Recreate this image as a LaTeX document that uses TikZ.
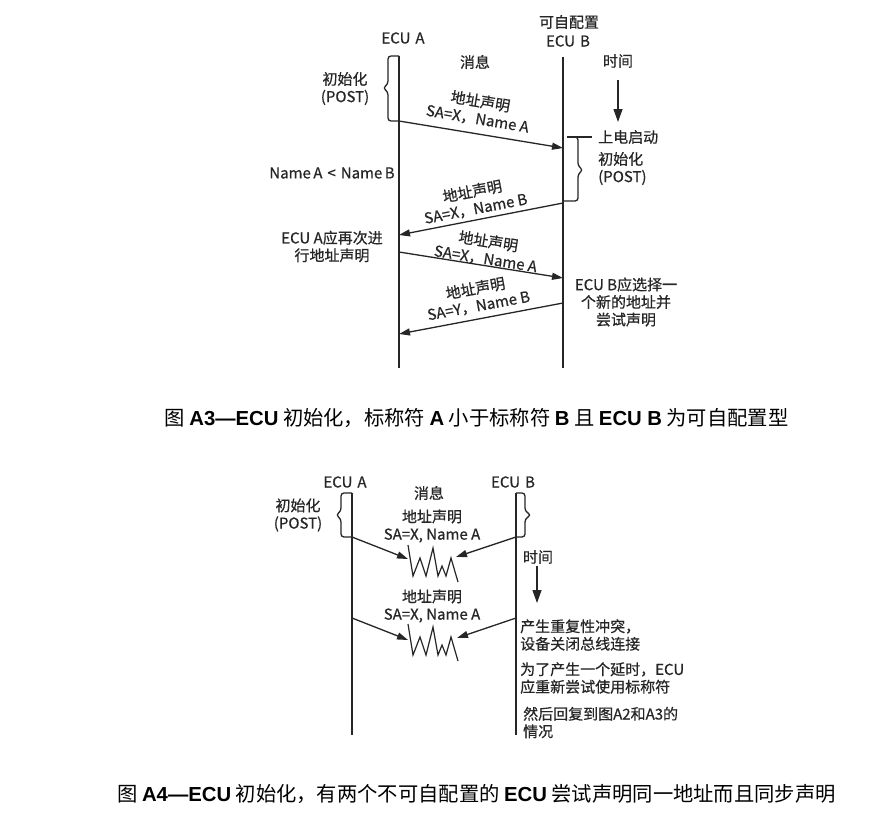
\documentclass[tikz,border=0pt]{standalone}
\usepackage{fontspec}
\setmainfont{Noto Sans CJK SC}
\newfontfamily\dgm{Noto Sans CJK SC}[FakeBold=0.6]
\newfontfamily\capb{Liberation Sans}
\newcommand\capbf[1]{{\capb\bfseries #1}}
\usetikzlibrary{arrows.meta}
\begin{document}
\begin{tikzpicture}[x=1pt,y=-1pt,
  ink/.style={draw=black!85, line width=1.3pt},
  msg/.style={ink, -{Triangle[length=11pt,width=7pt]}},
  timearrow/.style={ink, -{Triangle[length=13pt,width=9pt]}},
  brace/.style={ink, rounded corners=3pt},
  lbl/.style={font={\dgm\fontsize{15}{17.5}\selectfont}, text=black!85, inner sep=0pt, align=center},
  figcaption/.style={font=\fontsize{20.3}{24}\selectfont, text=black, inner sep=0pt},
]
\useasboundingbox[fill=white] (0,0) rectangle (894,828);

% ---------------- Figure A3 ----------------
\coordinate (A3top) at (399,56);  \coordinate (A3bot) at (399,368);
\coordinate (B3top) at (563,57);  \coordinate (B3bot) at (563,368);
\draw[ink] (A3top) -- (A3bot);
\draw[ink] (B3top) -- (B3bot);

\node[lbl] (ecuA3) at (403,38) {ECU\,\,A};
\node[lbl] (cfgB3) at (569,22) {可自配置};
\node[lbl] (ecuB3) at (568,41) {ECU\,\,B};
\node[lbl] (msg3)  at (475,62) {消息};
\node[lbl] (time3) at (618,61) {时间};
\coordinate (t3s) at (618,80); \coordinate (t3e) at (618,122);
\draw[timearrow] (t3s) -- (t3e);

% power-on self test of ECU A
\draw[brace] (399,56) -- (388,56) -- (388,84) -- (383,88) -- (388,92) -- (388,121) -- (399,121);
\node[lbl] (postA3) at (345,88.5) {初始化\\(POST)};

% power-on and self test of ECU B
\draw[ink] (567,137) -- (592,137);
\draw[brace] (572,137) -- (578,137) -- (578,166) -- (583,170) -- (578,174) -- (578,201) -- (564,201);
\node[lbl, anchor=west] (pwrB3) at (598,137) {上电启动};
\node[lbl, anchor=west, align=left] (postB3) at (598,168.5) {初始化\\(POST)};

\node[lbl] (cmp3) at (332,173) {Name\,A\,\,<\,\,Name\,B};

% address claims
\coordinate (m1s) at (399,121); \coordinate (m1e) at (563,148);
\coordinate (m2s) at (563,203); \coordinate (m2e) at (399,235);
\coordinate (m3s) at (399,252); \coordinate (m3e) at (563,278);
\coordinate (m4s) at (563,303); \coordinate (m4e) at (399,334);
\draw[msg] (m1s) -- (m1e);
\draw[msg] (m2s) -- (m2e);
\draw[msg] (m3s) -- (m3e);
\draw[msg] (m4s) -- (m4e);
\node[lbl, rotate=-9.5] (l1) at (479,110) {地址声明\\SA=X，Name A};
\node[lbl, rotate=11]   (l2) at (474,200) {地址声明\\SA=X，Name B};
\node[lbl, rotate=-9]   (l3) at (487,250) {地址声明\\SA=X，Name A};
\node[lbl, rotate=10.5] (l4) at (477,297) {地址声明\\SA=Y，Name B};

\node[lbl] (reA3) at (332,246.5) {ECU A应再次进\\行地址声明};
\node[lbl] (newB3) at (626,302) {ECU B应选择一\\个新的地址并\\尝试声明};

\node[figcaption] (cap3) at (476.5,418) {图 \capbf{A3—ECU} 初始化，标称符 \capbf{A} 小于标称符 \capbf{B} 且 \capbf{ECU B} 为可自配置型};

% ---------------- Figure A4 ----------------
\coordinate (A4top) at (352,493); \coordinate (A4bot) at (352,735);
\coordinate (B4top) at (516,493); \coordinate (B4bot) at (516,735);
\draw[ink] (A4top) -- (A4bot);
\draw[ink] (B4top) -- (B4bot);

\node[lbl] (ecuA4) at (345,482) {ECU\,\,A};
\node[lbl] (ecuB4) at (513,482) {ECU\,\,B};
\node[lbl] (msg4)  at (429,493) {消息};

\draw[brace] (352,493) -- (341,493) -- (341,511) -- (336,515) -- (341,519) -- (341,537) -- (352,537);
\draw[brace] (516,493) -- (525,493) -- (525,511) -- (531,515) -- (525,519) -- (525,537) -- (516,537);
\node[lbl] (postA4) at (298,515) {初始化\\(POST)};

\node[lbl] (c1lab) at (432,526) {地址声明\\SA=X, Name A};
\node[lbl] (c2lab) at (432,606) {地址声明\\SA=X, Name A};

\coordinate (c1a) at (352,537); \coordinate (c1ae) at (408,559);
\coordinate (c1b) at (516,537); \coordinate (c1be) at (456,557);
\coordinate (c2a) at (352,618); \coordinate (c2ae) at (408,640);
\coordinate (c2b) at (516,618); \coordinate (c2be) at (457,638);
\draw[msg] (c1a) -- (c1ae);
\draw[msg] (c1b) -- (c1be);
\draw[msg] (c2a) -- (c2ae);
\draw[msg] (c2b) -- (c2be);

% collision zigzags
\foreach \dy in {0,79} {
  \draw[draw=black!85, line width=1.2pt, line join=miter, shift={(0,\dy)}]
    (408,545) -- (413,576) -- (420,558) -- (426,576) -- (433,548) -- (438,576)
    -- (442,566) -- (446,576) -- (451,558) -- (458,582);
}

\node[lbl] (time4) at (538,557) {时间};
\coordinate (t4s) at (537,566); \coordinate (t4e) at (537,603);
\draw[timearrow] (t4s) -- (t4e);

\node[lbl, anchor=west, align=left] (n1) at (520,635) {产生重复性冲突，\\设备关闭总线连接};
\node[lbl, anchor=west, align=left] (n2) at (520,678) {为了产生一个延时，ECU\\应重新尝试使用标称符};
\node[lbl, anchor=west, align=left] (n3) at (523,722.5) {然后回复到图A2和A3的\\情况};

\node[figcaption] (cap4) at (476.5,794) {图 \capbf{A4—ECU} 初始化，有两个不可自配置的 \capbf{ECU} 尝试声明同一地址而且同步声明};
\end{tikzpicture}
\end{document}
